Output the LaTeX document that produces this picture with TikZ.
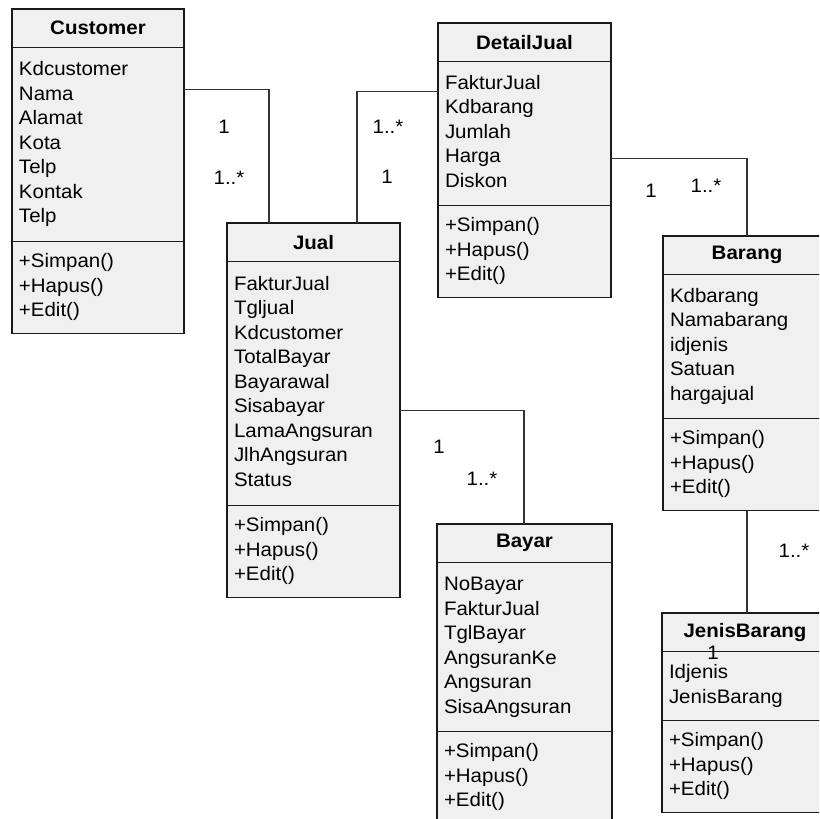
\documentclass[tikz,border=0pt]{standalone}
\usepackage{fontspec}
\setmainfont{Liberation Sans}[FakeStretch=1.05]
\usepackage{tikz}
\usetikzlibrary{calc}
\definecolor{boxfill}{HTML}{F0F0F0}
\definecolor{boxline}{HTML}{1A1A1A}
\definecolor{linkline}{HTML}{333333}
\tikzset{x=1pt, y=-1pt,
  every node/.style={font=\fontsize{19.5}{24.5}\selectfont},
  class head/.style={draw=boxline, fill=boxfill, line width=1.7pt, outer sep=0pt,
        anchor=north west, minimum height=38.5pt, inner sep=0pt,
        font=\fontsize{19.5}{24.5}\selectfont\bfseries},
  class part/.style={draw=boxline, fill=boxfill, line width=1.7pt, outer sep=0pt,
        anchor=north west, align=left, inner xsep=7pt, inner ysep=0pt},
  assoc/.style={draw=linkline, line width=1.3pt},
  mult/.style={inner sep=0pt}
}
% name, left, top, width, title, attributes, number of attributes
\def\UmlClass#1#2#3#4#5#6#7{%
  \node[class head, minimum width=#4] (#1) at (#2,#3) {#5};
  \node[class part, text width=#4-14, minimum height={25*#7+19}] (#1 attr)
     at (#1.south west) {\strut#6\strut};
  \node[class part, text width=#4-14, minimum height=92] (#1 meth)
     at (#1 attr.south west) {\strut+Simpan()\\+Hapus()\\+Edit()\strut};
}

\begin{document}
\begin{tikzpicture}
\clip (0,0) rectangle (819,819);
\fill[white] (0,0) rectangle (819,819);

\UmlClass{cust}{12}{9}{172}{Customer}{Kdcustomer\\Nama\\Alamat\\Kota\\Telp\\Kontak\\Telp}{7}
\UmlClass{jual}{227}{223}{173}{Jual}{FakturJual\\Tgljual\\Kdcustomer\\TotalBayar\\Bayarawal\\Sisabayar\\LamaAngsuran\\JlhAngsuran\\Status}{9}
\UmlClass{detail}{438}{23}{173}{DetailJual}{FakturJual\\Kdbarang\\Jumlah\\Harga\\Diskon}{5}
\UmlClass{barang}{663}{236}{168}{Barang}{Kdbarang\\Namabarang\\idjenis\\Satuan\\hargajual}{5}
\UmlClass{bayar}{437}{524}{175}{Bayar}{NoBayar\\FakturJual\\TglBayar\\AngsuranKe\\Angsuran\\SisaAngsuran}{6}
\UmlClass{jenis}{662}{613}{166}{JenisBarang}{Idjenis\\JenisBarang}{2}

% associations
\draw[assoc] ($(cust attr.north east)+(0,42)$) -| ($(jual.north west)+(42,0)$);
\draw[assoc] ($(jual.north west)+(130,0)$) |- ($(detail attr.north west)+(0,30)$);
\draw[assoc] ($(detail attr.north east)+(0,97)$) -| ($(barang.north west)+(84,0)$);
\draw[assoc] ($(jual attr.north east)+(0,149)$) -| ($(bayar.north west)+(87,0)$);
\draw[assoc] ($(barang meth.south west)+(84,0)$) -- ($(jenis.north west)+(85,0)$);

% multiplicities
\node[mult] (cust one) at (224,127) {1};
\node[mult] (cust many) at (229,178) {1..*};
\node[mult] (detail many) at (388,127) {1..*};
\node[mult] (detail one) at (387,177) {1};
\node[mult] (barang one) at (651,191) {1};
\node[mult] (barang many) at (706,186) {1..*};
\node[mult] (bayar one) at (439,447) {1};
\node[mult] (bayar many) at (482,479) {1..*};
\node[mult] (jenis many) at (794,551) {1..*};
\node[mult] (jenis one) at (713,653) {1};
\end{tikzpicture}
\end{document}
